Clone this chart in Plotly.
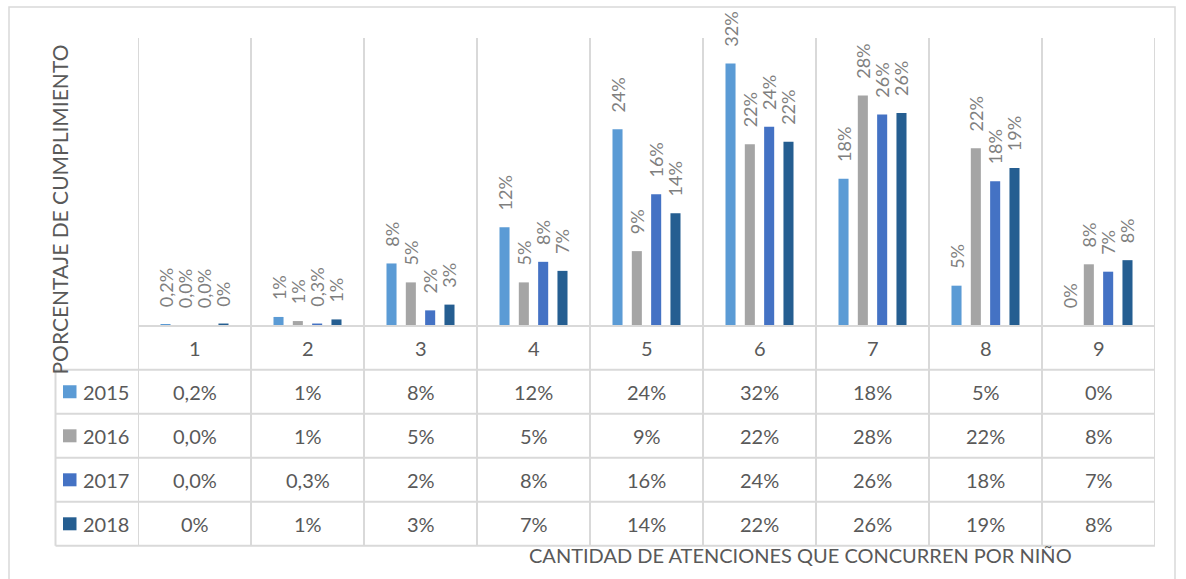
import plotly.graph_objects as go

# ---------------- data ----------------
categories = [1, 2, 3, 4, 5, 6, 7, 8, 9]
cat_labels = ["1", "2", "3", "4", "5", "6", "7", "8", "9"]
series_names = ["2015", "2016", "2017", "2018"]

v2015 = [0.002, 0.011, 0.076, 0.120, 0.239, 0.319, 0.179, 0.049, 0.001]
v2016 = [0.0003, 0.006, 0.053, 0.053, 0.091, 0.221, 0.280, 0.216, 0.075]
v2017 = [0.0003, 0.003, 0.019, 0.078, 0.160, 0.242, 0.257, 0.176, 0.066]
v2018 = [0.003, 0.008, 0.026, 0.067, 0.137, 0.224, 0.259, 0.192, 0.080]

l2015 = ["0,2%", "1%", "8%", "12%", "24%", "32%", "18%", "5%", "0%"]
l2016 = ["0,0%", "1%", "5%", "5%", "9%", "22%", "28%", "22%", "8%"]
l2017 = ["0,0%", "0,3%", "2%", "8%", "16%", "24%", "26%", "18%", "7%"]
l2018 = ["0%", "1%", "3%", "7%", "14%", "22%", "26%", "19%", "8%"]

values = [v2015, v2016, v2017, v2018]
labels = [l2015, l2016, l2017, l2018]
colors = ["#5b9bd5", "#a5a5a5", "#4472c4", "#255e91"]

y_title = "PORCENTAJE DE CUMPLIMIENTO"
x_title = "CANTIDAD DE ATENCIONES QUE CONCURREN POR NIÑO"

# ---------------- layout constants (pixels) ----------------
W, H = 1186, 579
PL, PR, PT, PB = 138, 1155, 38, 326
TABLE_LEFT = 55.5
ROW_LINES = [369.7, 413.8, 457.8, 501.8, 545.8]
GRID = "#d9d9d9"
TXT = "#595959"
LBL = "#7f7f7f"
FONT = "Lato"


def xp(px):
    return (px - PL) / (PR - PL)


def yp(py):
    return (PB - py) / (PB - PT)


fig = go.Figure()
pad = "\u00a0" * 3
for name, vals, labs, col in zip(series_names, values, labels, colors):
    fig.add_trace(go.Bar(
        x=categories, y=vals, name=name,
        marker=dict(color=col, line=dict(width=0)),
        text=[pad + t for t in labs],
        textposition="outside", textangle=-90,
        textfont=dict(family=FONT, size=18, color=LBL),
        constraintext="none", cliponaxis=False,
        showlegend=False, hoverinfo="skip",
    ))

shapes = []
# outer chart border
shapes.append(dict(type="rect", xref="paper", yref="paper",
                   x0=xp(9), x1=xp(1175), y0=yp(620), y1=yp(7),
                   line=dict(color=GRID, width=1.5), layer="below"))
# vertical grid lines at category boundaries (plot + table)
for i in range(len(categories) + 1):
    shapes.append(dict(type="line", xref="x", yref="paper",
                       x0=i + 0.5, x1=i + 0.5, y0=yp(ROW_LINES[-1]), y1=yp(PT),
                       line=dict(color=GRID, width=2), layer="below"))
# axis line
shapes.append(dict(type="line", xref="paper", yref="paper",
                   x0=0, x1=1, y0=0, y1=0, line=dict(color=GRID, width=2)))
# table row lines
for ry in ROW_LINES:
    shapes.append(dict(type="line", xref="paper", yref="paper",
                       x0=xp(TABLE_LEFT), x1=1, y0=yp(ry), y1=yp(ry),
                       line=dict(color=GRID, width=2)))
# table left border
shapes.append(dict(type="line", xref="paper", yref="paper",
                   x0=xp(TABLE_LEFT), x1=xp(TABLE_LEFT),
                   y0=yp(ROW_LINES[0]), y1=yp(ROW_LINES[-1]),
                   line=dict(color=GRID, width=2)))

annotations = []


def note(x, y, text, xref="paper", xanchor="center", size=20, angle=0):
    annotations.append(dict(x=x, y=y, xref=xref, yref="paper", text=text,
                            showarrow=False, xanchor=xanchor, yanchor="middle",
                            textangle=angle,
                            font=dict(family=FONT, size=size, color=TXT)))


# header row (category numbers)
head_c = (PB + ROW_LINES[0]) / 2
for c, lab in zip(categories, cat_labels):
    note(c, yp(head_c), lab, xref="x")
# data rows
for r, (name, labs, col) in enumerate(zip(series_names, labels, colors)):
    rc = (ROW_LINES[r] + ROW_LINES[r + 1]) / 2
    for c, t in zip(categories, labs):
        note(c, yp(rc), t, xref="x")
    note(xp(81), yp(rc), name, xanchor="left")
    shapes.append(dict(type="rect", xref="paper", yref="paper",
                       x0=xp(63), x1=xp(76.5), y0=yp(rc + 6.5), y1=yp(rc - 6.5),
                       fillcolor=col, line=dict(width=0)))

# axis titles
note(xp(59), yp(209.5), y_title, size=21, angle=-90)
note(xp(800), yp(555), x_title, size=20)

fig.update_layout(
    width=W, height=H,
    margin=dict(l=PL, r=W - PR, t=PT, b=H - PB, pad=0),
    paper_bgcolor="white", plot_bgcolor="white",
    barmode="group", bargap=0.316, bargroupgap=0.48,
    xaxis=dict(range=[0.5, 9.5], showticklabels=False, showgrid=False,
               zeroline=False, ticks="", fixedrange=True),
    yaxis=dict(range=[0, 0.35], visible=False, showgrid=False, zeroline=False),
    shapes=shapes, annotations=annotations,
    font=dict(family=FONT),
)

fig.write_html("out.html",
               config={"displayModeBar": False},
               post_script="document.body.style.margin='0';document.body.style.overflow='hidden';")
